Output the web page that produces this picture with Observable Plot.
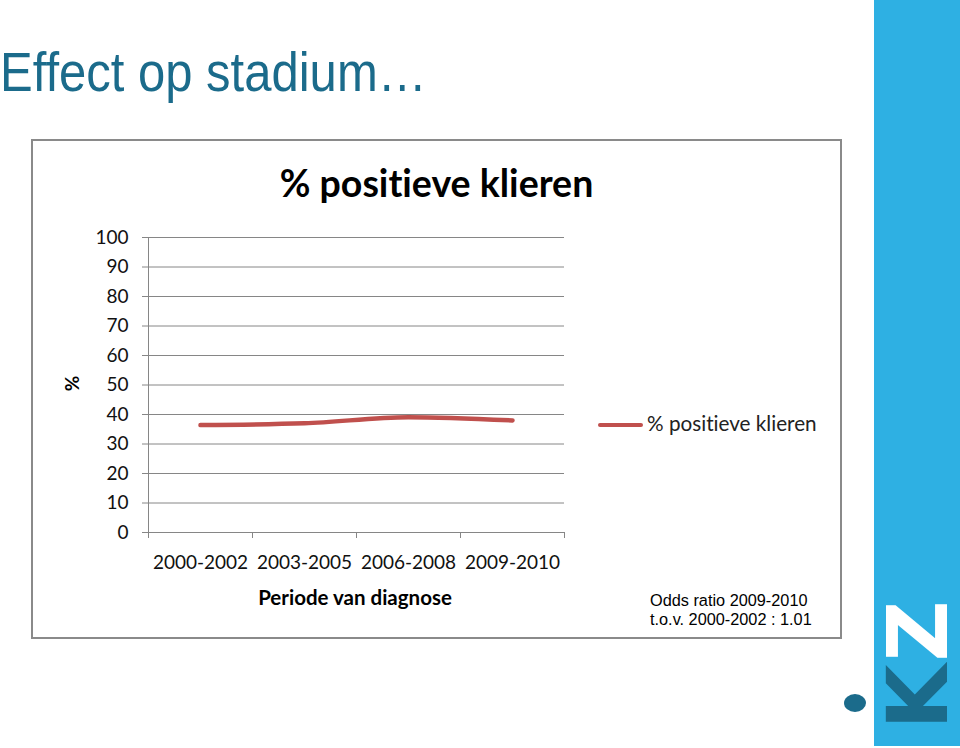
<!DOCTYPE html>
<html>
<head>
<meta charset="utf-8">
<script src="https://cdn.jsdelivr.net/npm/d3@7"></script>
<script src="https://cdn.jsdelivr.net/npm/@observablehq/plot@0.6"></script>
<style>
  html, body { margin:0; padding:0; background:#fff; }
  #page { position:relative; width:960px; height:748px; overflow:hidden; background:#fff; }
  .abs { position:absolute; white-space:nowrap; }
  #title { left:0; top:45px; font-family:"Liberation Sans", Arial, sans-serif; font-size:49px; line-height:1; color:#1b6b8b; transform:scaleY(1.12); transform-origin:left top; }
  #box { left:31px; top:139px; width:811px; height:500px; border:2px solid #8a8a8a; box-sizing:border-box; }
  #chart { left:31px; top:139px; }
  #ctitle { left:31px; width:811px; text-align:center; top:164px; font-family:Lato, sans-serif; font-weight:bold; font-size:37.5px; line-height:1; color:#000; font-variant-ligatures:none; }
  #xtitle { left:235px; width:240px; text-align:center; top:587px; font-family:Lato, sans-serif; font-weight:bold; font-size:20.5px; line-height:1; color:#000; }
  #ytitle { left:64px; top:374px; font-family:Lato, sans-serif; font-weight:bold; font-size:19px; line-height:1; color:#000; transform:rotate(-90deg); transform-origin:center center; }
  #legline { left:598px; top:423px; width:45px; height:4px; background:#c0504d; border-radius:2px; }
  #legtext { left:647px; top:413px; font-family:Lato, sans-serif; font-size:20.7px; line-height:1; color:#222; font-variant-ligatures:none; }
  #note { left:650px; top:591px; font-family:"Liberation Sans", Arial, sans-serif; font-size:16.3px; line-height:19px; color:#000; }
  #bar { left:874px; top:0; width:86px; height:746px; background:#2eb0e3; }
  #dot { left:844px; top:694px; width:22px; height:18px; border-radius:50%; background:#1b6b8b; }
  .logo { transform:translate(-50%,-50%) rotate(-90deg); font-family:'DejaVu Sans',sans-serif; font-weight:bold; font-size:84px; line-height:62px; }
  #logoK { left:918px; top:697px; color:#1b6b8b; }
  #logoZ { left:918px; top:631px; color:#fff; }
</style>
</head>
<body>
<div id="page">
  <div class="abs" id="title">Effect op stadium…</div>
  <div class="abs" id="bar"></div>
  <div class="abs" id="dot"></div>
  <div class="abs logo" id="logoK">K</div>
  <div class="abs logo" id="logoZ">Z</div>
  <div class="abs" id="box"></div>
  <div class="abs" id="chart"></div>
  <div class="abs" id="ctitle">% positieve klieren</div>
  <div class="abs" id="xtitle">Periode van diagnose</div>
  <div class="abs" id="ytitle">%</div>
  <div class="abs" id="legline"></div>
  <div class="abs" id="legtext">% positieve klieren</div>
  <div class="abs" id="note">Odds ratio 2009-2010<br>t.o.v. 2000-2002 : 1.01</div>
</div>
<script>
const categories = ["2000-2002", "2003-2005", "2006-2008", "2009-2010"];
const values = [36.4, 37.0, 39.1, 38.0];
const yTicks = [0, 10, 20, 30, 40, 50, 60, 70, 80, 90, 100];
const seriesName = "% positieve klieren";

const data = categories.map((c, i) => ({cat: c, pos: i + 0.5, value: values[i], series: seriesName}));
const boundaries = d3.range(categories.length + 1);
const centers = categories.map((c, i) => i + 0.5);

const grid = "#868686";
const chart = Plot.plot({
  width: 811,
  height: 500,
  marginLeft: 117,
  marginRight: 278,
  marginTop: 98,
  marginBottom: 107,
  x: {domain: [0, categories.length], axis: null, label: null},
  y: {domain: [0, 100], axis: null, label: null},
  style: {fontFamily: "Lato, sans-serif", fontSize: "19px", color: "#111", background: "transparent", overflow: "visible"},
  marks: [
    Plot.ruleY(yTicks, {stroke: grid, strokeOpacity: 1, strokeWidth: 1, insetLeft: -6}),
    Plot.ruleX([0], {stroke: grid, strokeWidth: 1}),
    Plot.axisY(yTicks, {anchor: "left", label: null, tickSize: 0, tickPadding: 20, tickFormat: d => String(d), fontSize: 19, fill: "#111"}),
    Plot.axisX(boundaries, {anchor: "bottom", label: null, tickSize: 6, stroke: grid, strokeOpacity: 1, tickFormat: () => ""}),
    Plot.axisX(centers, {anchor: "bottom", label: null, tickSize: 0, tickPadding: 23, tickFormat: d => categories[Math.floor(d)], fontSize: 19, fill: "#111"}),
    Plot.line(data, {x: "pos", y: "value", stroke: "#c0504d", strokeWidth: 4.5, strokeLinecap: "round", strokeLinejoin: "round", curve: "monotone-x"})
  ]
});
document.getElementById("chart").appendChild(chart);
</script>
</body>
</html>
